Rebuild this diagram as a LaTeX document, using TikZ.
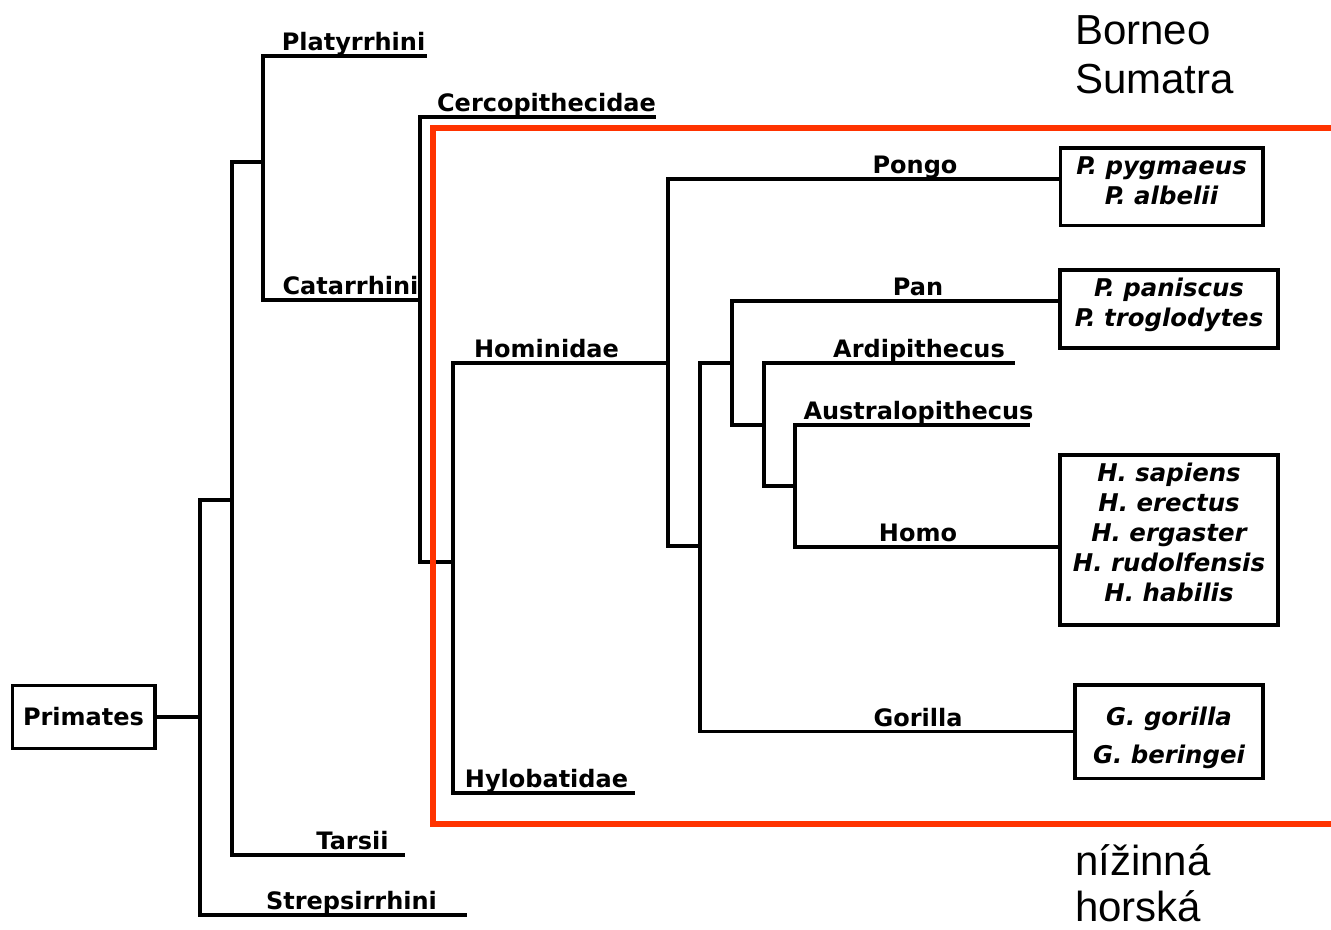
\documentclass[tikz,border=0pt]{standalone}
\usepackage{fontspec}
\setmainfont{DejaVu Sans}
\newfontfamily\notefont{Liberation Sans}
\usepackage{tikz}
\definecolor{cladered}{RGB}{255,51,0}
\tikzset{
    branch/.style={line width=2.5pt},
    taxon/.style={font=\fontsize{18}{22}\selectfont\bfseries, anchor=base, inner sep=0pt},
    species/.style={draw, line width=2.5pt, font=\fontsize{18.3}{22.5}\selectfont\bfseries\itshape, align=center, inner sep=0pt},
    note/.style={font=\notefont\fontsize{31.5}{36}\selectfont, anchor=base west, inner sep=0pt}
}

\begin{document}
\begin{tikzpicture}[x=0.75pt, y=-0.75pt]
    \useasboundingbox (0,0) rectangle (1331,929);

    % Boxes
    \node[species, font=\fontsize{18}{22}\selectfont\bfseries, minimum width=107pt, minimum height=47pt] (primates) at (83.5,717) {Primates};
    \node[species, minimum width=152pt, minimum height=58pt, text depth=9pt] (pongobox) at (1161.5,186.5) {P. pygmaeus\\P. albelii};
    \node[species, minimum width=163.5pt, minimum height=58.5pt, text depth=10pt] (panbox) at (1169,309) {P. paniscus\\P. troglodytes};
    \node[species, minimum width=163.5pt, minimum height=127.5pt, text depth=12pt] (homobox) at (1169,540) {H. sapiens\\H. erectus\\H. ergaster\\H. rudolfensis\\H. habilis};
    \node[species, minimum width=141pt, minimum height=70pt] (gorillabox) at (1169,731.5) {\rule{0pt}{24pt}G. gorilla\\[6pt]G. beringei};

    % Branch points
    \coordinate (root) at (200,717);
    \coordinate (haplo) at (232,500);
    \coordinate (anthro) at (263,162);
    \coordinate (cata) at (420,300);
    \coordinate (hominoid) at (453,562);
    \coordinate (hominid) at (668,363);
    \coordinate (hominin) at (700,546);
    \coordinate (panhomo) at (732,363);
    \coordinate (hominini) at (764,425);
    \coordinate (australhomo) at (795,486);

    % Free tips
    \coordinate (strep) at (467,915);
    \coordinate (tarsii) at (405,855);
    \coordinate (platy) at (427,56);
    \coordinate (cerco) at (656,117);
    \coordinate (hylo) at (635,793);
    \coordinate (ardi) at (1015,363);
    \coordinate (austral) at (1030,425);

    % Tree
    \draw[branch] (primates.east) -- (root);
    \draw[branch] (root) |- (strep);
    \draw[branch] (root) |- (haplo);
    \draw[branch] (haplo) |- (tarsii);
    \draw[branch] (haplo) |- (anthro);
    \draw[branch] (anthro) |- (platy);
    \draw[branch] (anthro) |- (cata);
    \draw[branch] (cata) |- (cerco);
    \draw[branch] (cata) |- (hominoid);
    \draw[branch] (hominoid) |- (hominid);
    \draw[branch] (hominoid) |- (hylo);
    \draw[branch] (hominid) |- ([yshift=5.6pt]pongobox.west);
    \draw[branch] (hominid) |- (hominin);
    \draw[branch] (hominin) |- (panhomo);
    \draw[branch] (hominin) |- (gorillabox.west);
    \draw[branch] (panhomo) |- ([yshift=6pt]panbox.west);
    \draw[branch] (panhomo) |- (hominini);
    \draw[branch] (hominini) |- (ardi);
    \draw[branch] (hominini) |- (australhomo);
    \draw[branch] (australhomo) |- (austral);
    \draw[branch] (australhomo) |- ([yshift=-5.25pt]homobox.west);

    % Taxon names
    \node[taxon] (platyl) at (353.5,50) {Platyrrhini};
    \node[taxon] (catal) at (350.5,294) {Catarrhini};
    \node[taxon] (cercol) at (546.5,111) {Cercopithecidae};
    \node[taxon] (hominidl) at (546.5,357) {Hominidae};
    \node[taxon] (hylol) at (546.5,787) {Hylobatidae};
    \node[taxon] (tarsiil) at (352.5,849) {Tarsii};
    \node[taxon] (strepl) at (351.5,909) {Strepsirrhini};
    \node[taxon] (pongol) at (915,173) {Pongo};
    \node[taxon] (panl) at (918,295) {Pan};
    \node[taxon] (ardil) at (919,357) {Ardipithecus};
    \node[taxon] (australl) at (918.5,419) {Australopithecus};
    \node[taxon] (homol) at (918,541) {Homo};
    \node[taxon] (gorillal) at (918,726) {Gorilla};

    % Red frame
    \draw[cladered, line width=3.8pt] (1336,128) -- (433,128) -- (433,824) -- (1336,824);

    % Notes
    \node[note] (borneo) at (1075,44) {Borneo};
    \node[note] (sumatra) at (1075,93) {Sumatra};
    \node[note] (lowland) at (1075,875) {nížinná};
    \node[note] (mountain) at (1075,921) {horská};
\end{tikzpicture}
\end{document}
